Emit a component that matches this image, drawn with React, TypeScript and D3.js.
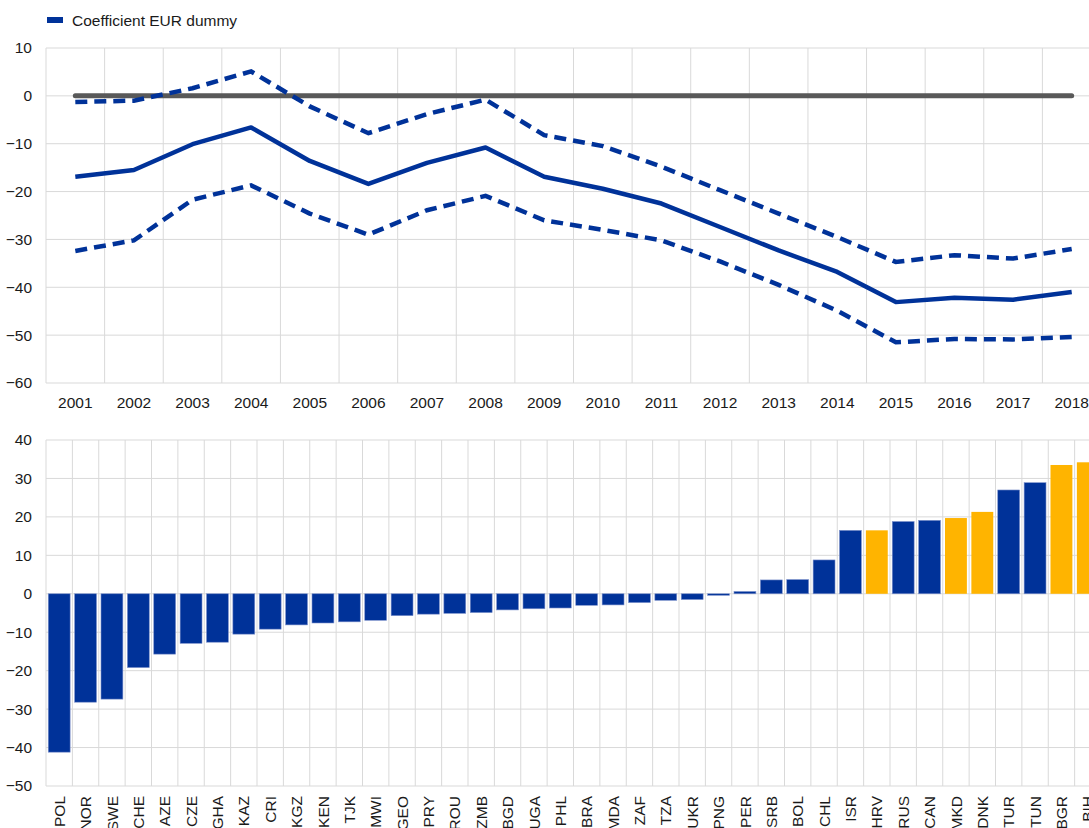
import React, { useEffect, useRef } from "react";
import * as d3 from "d3";

const width = 1089;
const height = 828;
const font = "'Liberation Sans', Arial, sans-serif";
const fontSize = 15.5;
const blue = "#003299";
const yellow = "#ffb400";
const grid = "#d9d9d9";

// top panel: coefficient on the EUR dummy with confidence band
const years = [
  "2001", "2002", "2003", "2004", "2005", "2006", "2007", "2008", "2009",
  "2010", "2011", "2012", "2013", "2014", "2015", "2016", "2017", "2018"
];
const coef = [-16.9, -15.5, -10.1, -6.6, -13.6, -18.4, -14.0, -10.8, -16.9, -19.4, -22.5, -27.4, -32.3, -36.8, -43.1, -42.2, -42.6, -41.0];
const upper = [-1.3, -1.0, 1.6, 5.1, -2.2, -7.8, -3.8, -0.8, -8.2, -10.5, -14.8, -19.7, -24.6, -29.5, -34.7, -33.3, -34.0, -32.0];
const lower = [-32.4, -30.2, -21.7, -18.7, -24.6, -29.0, -23.9, -20.9, -26.0, -28.0, -30.2, -34.6, -39.5, -44.9, -51.5, -50.8, -50.9, -50.4];
const topTicks = [10, 0, -10, -20, -30, -40, -50, -60];

// bottom panel: country effects
const countries = [
  "POL", "NOR", "SWE", "CHE", "AZE", "CZE", "GHA", "KAZ", "CRI", "KGZ",
  "KEN", "TJK", "MWI", "GEO", "PRY", "ROU", "ZMB", "BGD", "UGA", "PHL",
  "BRA", "MDA", "ZAF", "TZA", "UKR", "PNG", "PER", "SRB", "BOL", "CHL",
  "ISR", "HRV", "RUS", "CAN", "MKD", "DNK", "TUR", "TUN", "BGR", "BIH"
];
const effects = [
  -41.2, -28.2, -27.4, -19.2, -15.7, -12.9, -12.6, -10.5, -9.2, -8.1,
  -7.6, -7.3, -6.9, -5.7, -5.3, -5.1, -4.9, -4.2, -3.9, -3.7,
  -3.0, -2.9, -2.3, -1.7, -1.5, -0.4, 0.6, 3.6, 3.7, 8.8,
  16.5, 16.5, 18.8, 19.1, 19.7, 21.3, 27.0, 28.9, 33.5, 34.2
];
const highlighted = ["HRV", "MKD", "DNK", "BGR", "BIH"];
const bottomTicks = [40, 30, 20, 10, 0, -10, -20, -30, -40, -50];

const plotLeft = 46;
const plotRight = 1101;

export default function App() {
  const topY = useRef<SVGGElement>(null);
  const topX = useRef<SVGGElement>(null);
  const botY = useRef<SVGGElement>(null);
  const botX = useRef<SVGGElement>(null);

  const xTop = d3.scaleBand().domain(years).range([plotLeft, plotRight]);
  const yTop = d3.scaleLinear().domain([-60, 10]).range([383, 48]);
  const xBot = d3
    .scaleBand()
    .domain(countries)
    .range([plotLeft, plotRight])
    .paddingInner(0.17)
    .paddingOuter(0.085);
  const yBot = d3.scaleLinear().domain([-50, 40]).range([786, 440]);

  const cx = (d: string) => (xTop(d) as number) + xTop.bandwidth() / 2;
  const line = d3
    .line<number>()
    .x((d, i) => cx(years[i]))
    .y((d) => yTop(d));

  useEffect(() => {
    const style = (sel: any) => {
      sel.select(".domain").remove();
      sel.selectAll("line").remove();
      sel.attr("font-family", font).attr("font-size", fontSize);
      sel.selectAll("text").attr("fill", "#1a1a1a");
    };
    d3.select(topY.current)
      .call(d3.axisLeft(yTop).tickValues(topTicks).tickSize(0).tickPadding(0))
      .call(style);
    d3.select(topX.current)
      .call(d3.axisBottom(xTop).tickSize(0).tickPadding(0))
      .call(style);
    d3.select(botY.current)
      .call(d3.axisLeft(yBot).tickValues(bottomTicks).tickSize(0).tickPadding(0))
      .call(style);
    d3.select(botX.current)
      .call(d3.axisBottom(xBot).tickSize(0).tickPadding(0))
      .call(style);
    // country codes read bottom-to-top, like the original
    d3.select(botX.current)
      .selectAll("text")
      .attr("transform", "rotate(-90)")
      .attr("text-anchor", "end")
      .attr("x", 0)
      .attr("y", 0)
      .attr("dy", "0.36em");
  }, []);

  const topGridX = [...years.map((d) => xTop(d) as number), plotRight];
  const botGridX = countries.map((d, i) => plotLeft + i * xBot.step());
  botGridX.push(plotRight);

  return (
    <svg
      width={width}
      height={height}
      style={{ position: "absolute", left: 0, top: 0, background: "#fff" }}
    >
      {/* legend */}
      <rect x={47} y={17} width={16} height={6} fill={blue} />
      <text x={72} y={26} fontFamily={font} fontSize={fontSize} fill="#1a1a1a">
        Coefficient EUR dummy
      </text>

      {/* top grid */}
      {topTicks.map((t) => (
        <line key={"th" + t} x1={plotLeft} x2={width} y1={yTop(t)} y2={yTop(t)} stroke={grid} strokeWidth={1} />
      ))}
      {topGridX.map((x, i) => (
        <line key={"tv" + i} x1={x} x2={x} y1={yTop(10)} y2={yTop(-60)} stroke={grid} strokeWidth={1} />
      ))}

      {/* zero line */}
      <line
        x1={cx(years[0])}
        x2={cx(years[years.length - 1])}
        y1={yTop(0)}
        y2={yTop(0)}
        stroke="#595959"
        strokeWidth={5}
        strokeLinecap="round"
      />
      <path d={line(upper) || ""} fill="none" stroke={blue} strokeWidth={4.5} strokeDasharray="12,7" />
      <path d={line(lower) || ""} fill="none" stroke={blue} strokeWidth={4.5} strokeDasharray="12,7" />
      <path d={line(coef) || ""} fill="none" stroke={blue} strokeWidth={4.5} strokeLinejoin="round" />

      <g ref={topY} transform="translate(32,0)" />
      <g ref={topX} transform="translate(0,397)" />

      {/* bottom grid */}
      {bottomTicks.map((t) => (
        <line key={"bh" + t} x1={plotLeft} x2={width} y1={yBot(t)} y2={yBot(t)} stroke={grid} strokeWidth={1} />
      ))}
      {botGridX.map((x, i) => (
        <line key={"bv" + i} x1={x} x2={x} y1={yBot(40)} y2={yBot(-50)} stroke={grid} strokeWidth={1} />
      ))}

      {countries.map((c, i) => {
        const v = effects[i];
        const hi = highlighted.includes(c);
        return (
          <rect
            key={c}
            x={xBot(c)}
            y={yBot(Math.max(0, v))}
            width={xBot.bandwidth()}
            height={Math.abs(yBot(v) - yBot(0))}
            fill={hi ? yellow : blue}
            stroke={hi ? "none" : "#7f93cc"}
            strokeWidth={0.6}
          />
        );
      })}

      <g ref={botY} transform="translate(32,0)" />
      <g ref={botX} transform="translate(0,796)" />
    </svg>
  );
}
